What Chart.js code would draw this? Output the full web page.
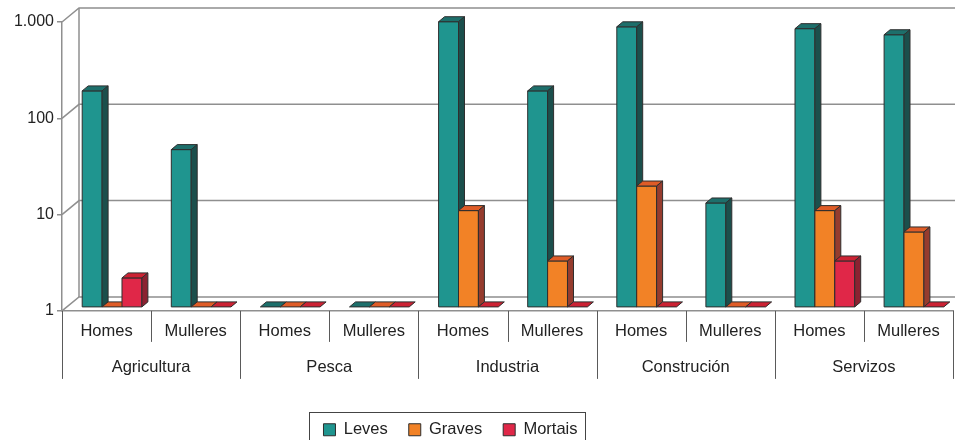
<!DOCTYPE html>
<html>
<head>
<meta charset="utf-8">
<script src="https://cdn.jsdelivr.net/npm/chart.js@4.4.1/dist/chart.umd.min.js"></script>
<style>
  html, body { margin: 0; padding: 0; background: #fff; }
  #wrap { width: 955px; height: 440px; }
</style>
</head>
<body>
<div id="wrap"><canvas id="chart" width="955" height="440"></canvas></div>
<script>
// data
var sexos = ['Homes', 'Mulleres', 'Homes', 'Mulleres', 'Homes', 'Mulleres', 'Homes', 'Mulleres', 'Homes', 'Mulleres'];
var sectores = ['Agricultura', 'Pesca', 'Industria', 'Construción', 'Servizos'];
var leves   = [175, 43, 0, 0, 915, 175, 810, 12, 775, 670];
var graves  = [0, 0, 0, 0, 10, 3, 18, 0, 10, 6];
var mortais = [2, 0, 0, 0, 0, 0, 0, 0, 3, 0];
var yTicks = [1, 10, 100, 1000];
var yTickText = ['1', '10', '100', '1.000'];

// front, top, side colours of each series
var shades = [
	['#1f958f', '#1d6f6b', '#1b4f4c'],
	['#f28226', '#df5c27', '#963c2e'],
	['#e02748', '#cc2233', '#8b2231']
];
var FONT = "'Liberation Sans', Arial, sans-serif";
var GRID = '#8f8f8f';
var DEPTH_X = 17, DEPTH_Y = -14;   // back wall offset
var SHIFT_X = 5.5, SHIFT_Y = -4;   // bars sit in middle of depth
var BAR_DX = 6, BAR_DY = -5;       // bar thickness

function poly(ctx, pts, fill) {
	ctx.beginPath();
	ctx.moveTo(pts[0][0], pts[0][1]);
	for (var i = 1; i < pts.length; i++) ctx.lineTo(pts[i][0], pts[i][1]);
	ctx.closePath();
	ctx.fillStyle = fill;
	ctx.fill();
	ctx.stroke();
}

var box3d = {
	id: 'box3d',
	beforeDatasetsDraw: function(chart) {
		var ctx = chart.ctx, y = chart.scales.y, a = chart.chartArea;
		ctx.save();
		ctx.strokeStyle = GRID;
		ctx.lineWidth = 1.5;
		yTicks.forEach(function(v) {
			var py = y.getPixelForValue(v);
			ctx.beginPath();
			ctx.moveTo(a.left, py);
			ctx.lineTo(a.left + DEPTH_X, py + DEPTH_Y);
			ctx.lineTo(a.right + DEPTH_X + 5, py + DEPTH_Y);
			ctx.stroke();
		});
		ctx.beginPath();
		ctx.moveTo(a.left + DEPTH_X, y.getPixelForValue(1000) + DEPTH_Y);
		ctx.lineTo(a.left + DEPTH_X, y.getPixelForValue(1) + DEPTH_Y);
		ctx.stroke();

		// separators of the two level category axis
		var x = chart.scales.x, n = sexos.length, w = (x.right - x.left) / n;
		ctx.strokeStyle = '#5a5a5a';
		ctx.lineWidth = 1;
		for (var k = 0; k <= n; k++) {
			var px = Math.round(x.left + k * w) + 0.5;
			ctx.beginPath();
			ctx.moveTo(px, a.bottom);
			ctx.lineTo(px, a.bottom + (k % 2 === 0 ? 68 : 31));
			ctx.stroke();
		}
		ctx.restore();
	},
	beforeDatasetDraw: function() {
		return false;
	},
	afterDatasetsDraw: function(chart) {
		var ctx = chart.ctx, y = chart.scales.y;
		var base = y.getPixelForValue(1) + SHIFT_Y;
		ctx.save();
		ctx.strokeStyle = '#2e2e2e';
		ctx.lineWidth = 1;
		ctx.lineJoin = 'round';
		for (var i = 0; i < sexos.length; i++) {
			chart.data.datasets.forEach(function(ds, d) {
				var bar = chart.getDatasetMeta(d).data[i];
				var c = shades[d];
				var x1 = bar.x - bar.width / 2 + SHIFT_X, x2 = bar.x + bar.width / 2 + SHIFT_X;
				var v = ds.data[i];
				var top = v > 0 ? y.getPixelForValue(v) + SHIFT_Y : base;
				if (v > 1) {
					poly(ctx, [[x1, top], [x2, top], [x2, base], [x1, base]], c[0]);
				}
				poly(ctx, [[x1, top], [x2, top], [x2 + BAR_DX, top + BAR_DY], [x1 + BAR_DX, top + BAR_DY]], c[1]);
				if (v > 1) {
					poly(ctx, [[x2, top], [x2 + BAR_DX, top + BAR_DY], [x2 + BAR_DX, base + BAR_DY], [x2, base]], c[2]);
				}
			});
		}
		ctx.restore();
	},
	afterLayout: function(chart) {
		var L = chart.legend, sx = -26, sy = 18;
		L.left += sx; L.right += sx;
		L.top += sy; L.bottom += sy;
		L.legendHitBoxes.forEach(function(h) { h.left += sx; });
	},
	afterDraw: function(chart) {
		var L = chart.legend, hb = L.legendHitBoxes;
		var l = hb[0].left, r = hb[hb.length - 1].left + hb[hb.length - 1].width;
		var t = hb[0].top;
		var ctx = chart.ctx;
		ctx.save();
		ctx.strokeStyle = '#444';
		ctx.lineWidth = 1;
		ctx.strokeRect(Math.round(l - 14) + 0.5, Math.round(t - 10) + 0.5, Math.round(r - l + 22), 40);
		ctx.restore();
	}
};

var ds = [['Leves', leves], ['Graves', graves], ['Mortais', mortais]].map(function(s, d) {
	return {
		label: s[0],
		data: s[1],
		backgroundColor: shades[d][0],
		borderColor: '#2e2e2e',
		borderWidth: 1,
		categoryPercentage: 0.67,
		barPercentage: 1.0
	};
});

new Chart(document.getElementById('chart'), {
	type: 'bar',
	data: { labels: sexos, datasets: ds },
	plugins: [box3d],
	options: {
		responsive: false,
		animation: false,
		events: [],
		layout: { padding: { left: 0, right: 2, top: 22, bottom: 10 } },
		plugins: {
			tooltip: { enabled: false },
			legend: {
				position: 'bottom',
				labels: {
					boxWidth: 12,
					boxHeight: 12,
					padding: 21,
					color: '#222',
					font: { family: FONT, size: 16.5 }
				}
			}
		},
		scales: {
			y: {
				type: 'logarithmic',
				min: 1,
				max: 1000,
				afterBuildTicks: function(s) {
					s.ticks = yTicks.map(function(v) { return { value: v }; });
				},
				afterFit: function(s) { s.width = 62; },
				ticks: {
					padding: 3,
					color: '#222',
					font: { family: FONT, size: 16 },
					callback: function(v) { return yTickText[yTicks.indexOf(v)]; }
				},
				grid: { drawOnChartArea: false, drawTicks: true, tickLength: 5, color: GRID, lineWidth: 1.5 },
				border: { display: true, color: GRID, width: 1.5 }
			},
			x: {
				offset: true,
				ticks: { padding: 11, color: '#222', font: { family: FONT, size: 16.5 }, maxRotation: 0, autoSkip: false },
				grid: { display: false, drawTicks: false },
				border: { display: true, color: GRID, width: 1.5 }
			},
			x2: {
				type: 'category',
				labels: sectores,
				position: 'bottom',
				offset: true,
				ticks: { padding: 5, color: '#222', font: { family: FONT, size: 16.5 }, maxRotation: 0, autoSkip: false },
				grid: { display: false, drawTicks: false },
				border: { display: false }
			}
		}
	}
});
</script>
</body>
</html>
